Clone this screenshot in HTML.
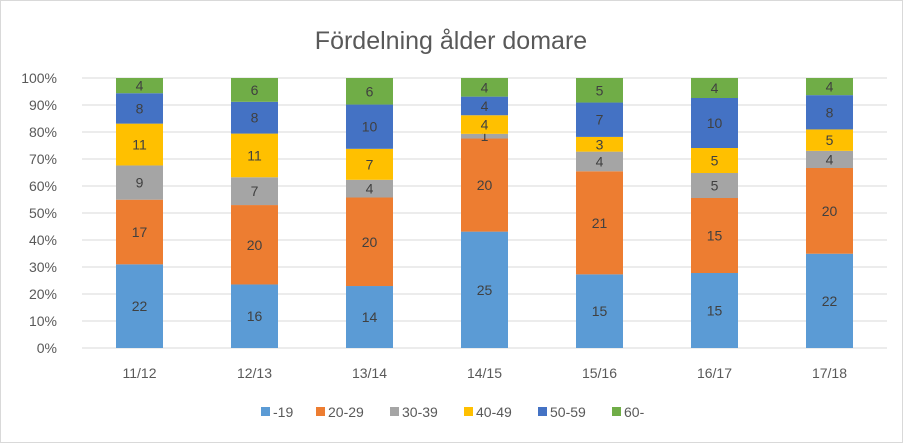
<!DOCTYPE html>
<html><head><meta charset="utf-8"><style>
body{margin:0;background:#fff;}
svg{display:block;font-family:"Liberation Sans",sans-serif;}
</style></head><body>
<svg id="c" width="903" height="443">
<rect x="0.5" y="0.5" width="902" height="442" fill="#fff" stroke="#d9d9d9"/>
<text x="451" y="49" text-anchor="middle" font-size="25" fill="#595959">Fördelning ålder domare</text>
<g id="grid"></g><g id="bars"></g><g id="legend"></g>
</svg>
<script>
const categories=["11/12","12/13","13/14","14/15","15/16","16/17","17/18"];
const seriesNames=["-19","20-29","30-39","40-49","50-59","60-"];
const s19=[22,16,14,25,15,15,22];
const s20=[17,20,20,20,21,15,20];
const s30=[9,7,4,1,4,5,4];
const s40=[11,11,7,4,3,5,5];
const s50=[8,8,10,4,7,10,8];
const s60=[4,6,6,4,5,4,4];
const series=[s19,s20,s30,s40,s50,s60];
const colors=["#5B9BD5","#ED7D31","#A5A5A5","#FFC000","#4472C4","#70AD47"];
const yTicks=[0,10,20,30,40,50,60,70,80,90,100];
const NS="http://www.w3.org/2000/svg";
const y0=348,y1=78,x0=82,step=115,bw=47;
const yS=p=>y0-(y0-y1)*p/100;
const xC=i=>x0+step*(i+0.5);
function mk(t,a,p){const e=document.createElementNS(NS,t);for(const k in a)e.setAttribute(k,a[k]);p.appendChild(e);return e;}
const grid=document.getElementById('grid');
yTicks.forEach(v=>{
  const l=mk('line',{x1:x0,x2:x0+step*categories.length,y1:yS(v),y2:yS(v),stroke:'#d9d9d9'},grid);
  
  
  const t=mk('text',{x:57,y:yS(v)+5,'text-anchor':'end','font-size':14,fill:'#595959'},grid);
  t.textContent=v+'%';
  
  
});
const bars=document.getElementById('bars');
categories.forEach((c,i)=>{
  const tot=series.reduce((a,s)=>a+s[i],0);
  let cum=0;
  series.forEach((s,j)=>{
    const v=s[i];
    const ya=yS(cum/tot*100),yb=yS((cum+v)/tot*100);
    const r=mk('rect',{x:xC(i)-bw/2,y:yb,width:bw,height:ya-yb,fill:colors[j]},bars);
    
    
    const t=mk('text',{x:xC(i),y:(ya+yb)/2+5,'text-anchor':'middle','font-size':14,fill:'#404040'},bars);
    t.textContent=v;
    
    
    cum+=v;
  });
  const t=mk('text',{x:xC(i),y:378,'text-anchor':'middle','font-size':14,fill:'#595959'},bars);
  t.textContent=c;
  
  
});
const lg=document.getElementById('legend');
const lx=[261,316,390,464,538,612];
seriesNames.forEach((n,j)=>{
  const r=mk('rect',{x:lx[j],y:407,width:9,height:9,fill:colors[j]},lg);
  
  
  const t=mk('text',{x:lx[j]+12,y:417,'font-size':14,fill:'#595959'},lg);
  t.textContent=n;
  
  
});
</script>
</body></html>
